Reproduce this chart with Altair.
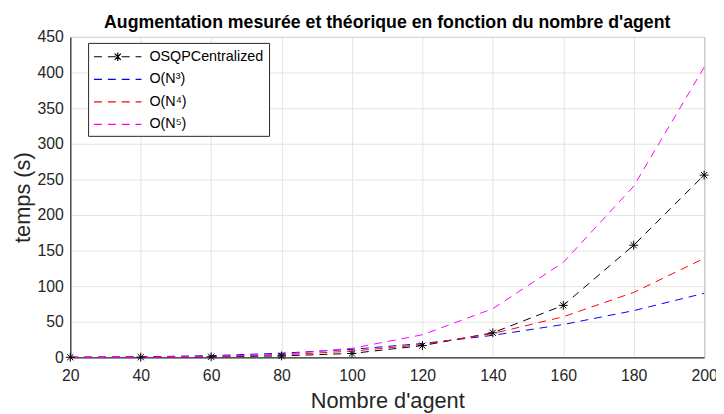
import altair as alt
import pandas as pd

agents = [20, 40, 60, 80, 100, 120, 140, 160, 180, 200]
osqp = [0.1, 0.3, 0.8, 2.0, 5.5, 16.5, 34.5, 73.0, 157.5, 256.0]
o_n3 = [0.09, 0.72, 2.4, 5.8, 11.3, 19.4, 30.9, 46.1, 65.6, 90.0]
o_n4 = [0.01, 0.22, 1.1, 3.6, 8.7, 18.0, 33.4, 57.0, 91.2, 139.0]
o_n5 = [0.0, 0.13, 1.0, 4.2, 12.7, 31.7, 68.4, 133.4, 240.4, 407.5]

series_names = ["OSQPCentralized", "O(N³)", "O(N⁴)", "O(N⁵)"]
series_colors = ["#000000", "#0000ff", "#ff0000", "#ff00ff"]
x_ticks = [20, 40, 60, 80, 100, 120, 140, 160, 180, 200]
y_ticks = [0, 50, 100, 150, 200, 250, 300, 350, 400, 450]

rows = []
for k, (name, vals) in enumerate(zip(series_names, [osqp, o_n3, o_n4, o_n5])):
    for a, v in zip(agents, vals):
        rows.append({"agents": a, "temps": v, "serie": name, "k": k})
df = pd.DataFrame(rows)
df_osqp = df[df["serie"] == series_names[0]]

FONT = "Liberation Sans"
DASH = [8, 6]

star = ("M0,0L0,-1M0,0L0,1M0,0L-1,0M0,0L1,0"
        "M0,0L-0.7,-0.7M0,0L0.7,0.7M0,0L-0.7,0.7M0,0L0.7,-0.7")
legend_star = ("M-3,0H3M0,0V-0.55M0,0V0.55M0,0L-0.39,-0.39M0,0L0.39,0.39"
               "M0,0L-0.39,0.39M0,0L0.39,-0.39")
legend_line = "M-3,0H3"

x_enc = alt.X("agents:Q", scale=alt.Scale(domain=[20, 200], nice=False),
              axis=alt.Axis(values=x_ticks, title="Nombre d'agent", labelFlush=False))
y_enc = alt.Y("temps:Q", scale=alt.Scale(domain=[0, 450], nice=False),
              axis=alt.Axis(values=y_ticks, title="temps (s)", labelFlush=False))
color_scale = alt.Scale(domain=series_names, range=series_colors)
legend_def = alt.Legend(title=None, orient="none", legendX=18, legendY=6)

lines = alt.Chart(df).mark_line(strokeWidth=1, strokeDash=DASH).encode(
    x=x_enc, y=y_enc,
    color=alt.Color("serie:N", scale=color_scale, legend=legend_def),
    order=alt.Order("k:Q"),
    detail="serie:N",
)

points = alt.Chart(df_osqp).mark_point(
    shape=star, size=81, filled=False, strokeWidth=1, color="#000000", opacity=1
).encode(x=x_enc, y=y_enc)

legend_layer = alt.Chart(df).mark_point(filled=False, opacity=1, strokeWidth=1).encode(
    x=x_enc, y=y_enc,
    color=alt.Color("serie:N", scale=color_scale, legend=legend_def),
    shape=alt.Shape("serie:N", scale=alt.Scale(domain=series_names,
                    range=[legend_star, legend_line, legend_line, legend_line]),
                    legend=legend_def),
).transform_filter("datum.k > 10")

chart = alt.layer(lines, points, legend_layer).properties(
    width=641, height=324,
    title=alt.TitleParams("Augmentation mesurée et théorique en fonction du nombre d'agent",
                          font=FONT, fontSize=17.9, fontWeight="bold", color="#000000",
                          offset=-3, frame="group", anchor="middle"),
    autosize=alt.AutoSizeParams(type="none"),
    padding={"left": 63, "right": 12, "top": 27, "bottom": 55},
).configure_view(
    stroke="#262626", strokeWidth=1
).configure_axis(
    labelFont=FONT, labelFontSize=16, labelColor="#262626",
    titleFont=FONT, titleFontSize=22, titleFontWeight="normal", titleColor="#262626",
    domainColor="#262626", domainWidth=1,
    gridColor="#e3e3e3", gridWidth=1, ticks=False,
).configure_axisX(
    labelPadding=10, titlePadding=8,
).configure_axisY(
    labelPadding=7, titlePadding=3,
).configure_legend(
    labelFont=FONT, labelFontSize=14.5, labelColor="#000000",
    strokeColor="#262626", fillColor="#ffffff", padding=5, rowPadding=6.8,
    symbolSize=256, symbolStrokeWidth=1.2, symbolDash=DASH,
    symbolOffset=16, labelOffset=23, cornerRadius=0,
)

chart.save("out.html", embed_options={"renderer": "svg", "actions": False})
